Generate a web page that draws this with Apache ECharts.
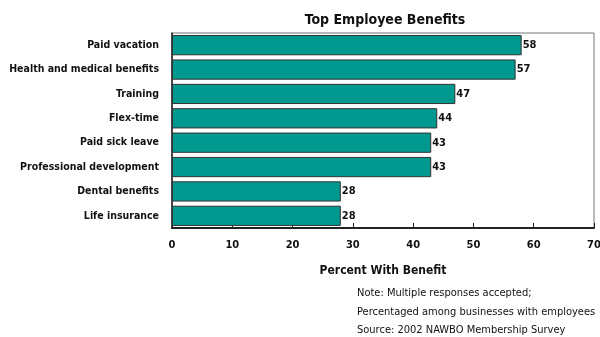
<!DOCTYPE html>
<html>
<head>
<meta charset="utf-8">
<script src="https://cdn.jsdelivr.net/npm/echarts@6/dist/echarts.min.js"></script>
<style>
  html, body { margin: 0; padding: 0; background: #fff; }
  #chart { width: 600px; height: 337px; }
</style>
</head>
<body>
<div id="chart"></div>
<script>
const categories = ['Paid vacation', 'Health and medical benefits', 'Training', 'Flex-time',
  'Paid sick leave', 'Professional development', 'Dental benefits', 'Life insurance']
const values = [58, 57, 47, 44, 43, 43, 28, 28]
const notes = [
  'Note: Multiple responses accepted;',
  'Percentaged among businesses with employees',
  'Source: 2002 NAWBO Membership Survey'
]

const font = '"Liberation Sans Narrow", "DejaVu Sans Condensed", "Roboto Condensed", sans-serif'
const chart = echarts.init(document.getElementById('chart'))

const option = {
  animation: false,
  title: {
    text: 'Top Employee Benefits',
    left: 380,
    textAlign: 'center',
    top: 8,
    textStyle: { fontFamily: font, fontSize: 14, fontWeight: 'bold', color: '#111' }
  },
  grid: {
    left: 172, right: 6, top: 33, bottom: 109,
    outerBoundsMode: 'none',
    containLabel: false,
    show: true, borderColor: '#777', borderWidth: 1
  },
  xAxis: {
    type: 'value',
    min: 0, max: 70, interval: 10,
    name: 'Percent With Benefit',
    nameLocation: 'middle',
    nameGap: 37,
    nameTextStyle: { fontFamily: font, fontSize: 12, fontWeight: 'bold', color: '#111' },
    axisLine: { show: true, lineStyle: { color: '#222', width: 2 } },
    axisTick: { show: true, inside: true, length: 5, lineStyle: { color: '#222' } },
    axisLabel: { fontFamily: font, fontSize: 11, fontWeight: 'bold', color: '#111', margin: 12 },
    splitLine: { show: false }
  },
  yAxis: {
    type: 'category',
    data: categories,
    inverse: true,
    axisLine: { show: true, lineStyle: { color: '#222', width: 1.5 } },
    axisTick: { show: false },
    axisLabel: { fontFamily: font, fontSize: 10.5, fontWeight: 'bold', color: '#111', margin: 13 }
  },
  series: [{
    type: 'bar',
    data: values,
    barCategoryGap: '17%',
    itemStyle: { color: '#00998F', borderColor: '#333', borderWidth: 1 },
    label: {
      show: true, position: 'right', distance: 1,
      fontFamily: font, fontSize: 11, fontWeight: 'bold', color: '#111'
    }
  }],
  graphic: notes.map((t, i) => ({
    type: 'text',
    left: 357,
    top: 288 + i * 18.5,
    style: { text: t, fontFamily: font, fontSize: 11, fill: '#111' }
  }))
}

chart.setOption(option)
</script>
</body>
</html>
